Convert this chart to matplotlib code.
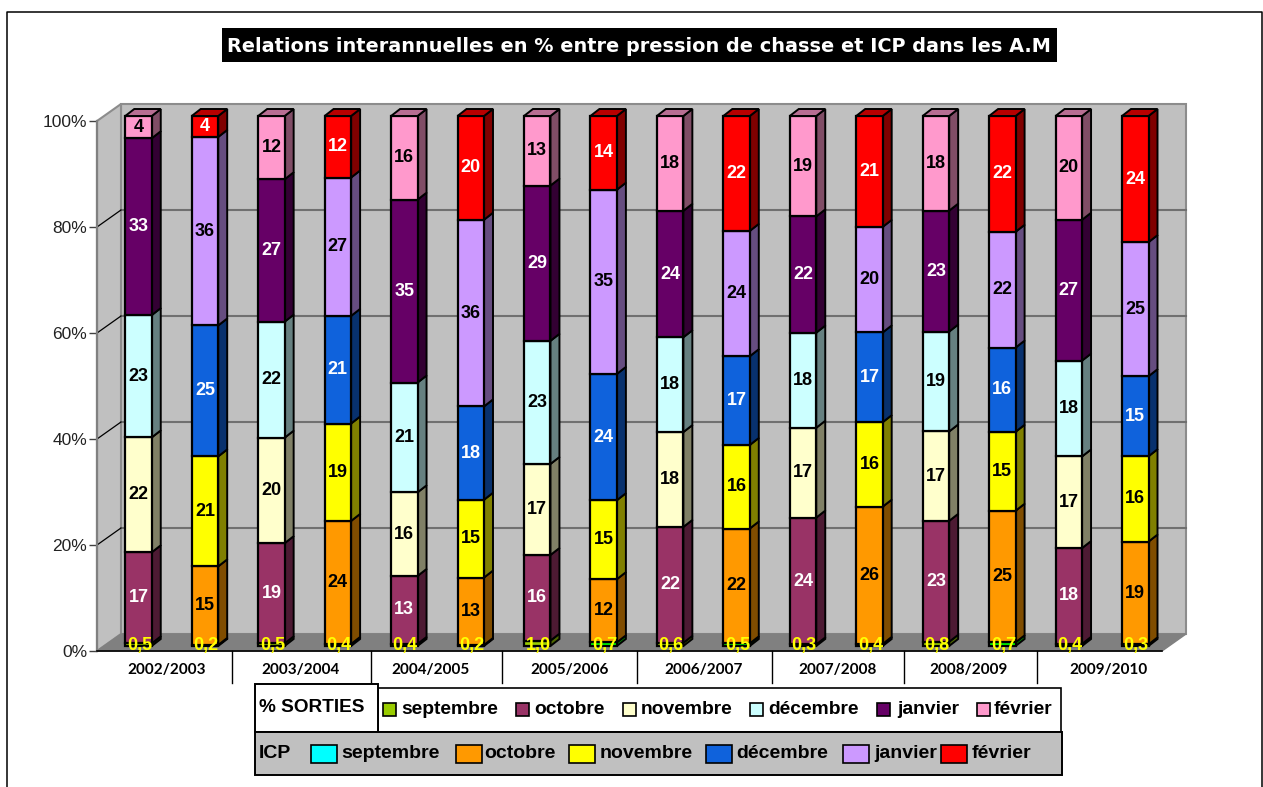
import matplotlib
matplotlib.use("Agg")
import matplotlib.pyplot as plt
from matplotlib.patches import Polygon, Rectangle
import matplotlib.colors as mc

plt.rcParams['font.family'] = ['Liberation Sans', 'DejaVu Sans']

seasons = ['2002/2003', '2003/2004', '2004/2005', '2005/2006',
           '2006/2007', '2007/2008', '2008/2009', '2009/2010']
months = ['septembre', 'octobre', 'novembre', 'décembre', 'janvier', 'février']

sorties_sep = [0.5, 0.5, 0.4, 1.0, 0.6, 0.3, 0.8, 0.4]
sorties_oct = [17.2, 19, 13, 16, 22, 24, 23, 18.1]
sorties_nov = [21.7, 20, 16, 17, 18, 17, 17, 17.3]
sorties_dec = [23.1, 22, 21, 23, 18, 18, 19, 18.1]
sorties_jan = [33.4, 27, 35, 29, 24, 22, 23, 26.6]
sorties_fev = [4.2, 12, 16, 13, 18, 19, 18, 19.6]

icp_sep = [0.2, 0.4, 0.2, 0.7, 0.5, 0.4, 0.7, 0.3]
icp_oct = [15, 24, 13, 12, 22, 26, 25, 19.4]
icp_nov = [21, 19, 15, 15, 16, 16, 15, 16.1]
icp_dec = [25, 21, 18, 24, 17, 17, 16, 15.1]
icp_jan = [36, 27, 36, 35, 24, 20, 22, 25.3]
icp_fev = [4, 12, 20, 14, 22, 21, 22, 23.8]

sorties = [sorties_sep, sorties_oct, sorties_nov, sorties_dec, sorties_jan, sorties_fev]
icp = [icp_sep, icp_oct, icp_nov, icp_dec, icp_jan, icp_fev]

sorties_colors = ['#99CC00', '#993366', '#FFFFCC', '#CCFFFF', '#660066', '#FF99CC']
icp_colors = ['#00FF00', '#FF9900', '#FFFF00', '#0F62DC', '#CC99FF', '#FF0000']
icp_legend_colors = ['#00FFFF', '#FF9900', '#FFFF00', '#0F62DC', '#CC99FF', '#FF0000']
sorties_text = ['#FFFF00', 'white', 'black', 'black', 'white', 'black']
icp_text = ['#FFFF00', 'black', 'black', 'white', 'black', 'white']

W, H = 1263, 787
fig = plt.figure(figsize=(W / 100, H / 100), dpi=100, facecolor='white')

# layout, in pixels
L, R, T, B = 97, 1162, 121, 651
BAR0_CENTRE, STEP, BAR_W = 138.5, 66.45, 26.5
WALL_DX, WALL_DY = 24, 17
BAR_DX, BAR_DY = 9, 7
BAR_LIFT = 5

ax = fig.add_axes([L / W, 1 - B / H, (R - L) / W, (B - T) / H])
ax.set_xlim((L - BAR0_CENTRE) / STEP, (R - BAR0_CENTRE) / STEP)
ax.set_ylim(0, 100)
ax.set_facecolor('none')
px_x = 1 / STEP
px_y = 100 / (B - T)
x_from_px = lambda p: (p - BAR0_CENTRE) / STEP

# walls and floor
xa, xb = ax.get_xlim()
wx, wy = WALL_DX * px_x, WALL_DY * px_y
ax.add_patch(Polygon([(xa + wx, wy), (xb + wx, wy), (xb + wx, 100 + wy), (xa + wx, 100 + wy)],
                     fc='#C0C0C0', ec='#8C8C8C', lw=1.5, clip_on=False, zorder=1))
ax.add_patch(Polygon([(xa, 0), (xa + wx, wy), (xa + wx, 100 + wy), (xa, 100)],
                     fc='#C0C0C0', ec='#8C8C8C', lw=1.5, clip_on=False, zorder=1))
ax.add_patch(Polygon([(xa, 0), (xa + wx, wy), (xb + wx, wy), (xb, 0)],
                     fc='#808080', ec='#808080', lw=1, clip_on=False, zorder=1.1))
for v in [20, 40, 60, 80]:
    ax.plot([xa + wx, xb + wx], [v + wy, v + wy], color='#707070', lw=1.5, clip_on=False, zorder=1.2)
    ax.plot([xa, xa + wx], [v, v + wy], color='black', lw=0.9, clip_on=False, zorder=1.2)

# stacked 3D bars
lift = BAR_LIFT * px_y
half = BAR_W / 2 * px_x
dx, dy = BAR_DX * px_x, BAR_DY * px_y
for i in range(16):
    k = i // 2
    group = icp if i % 2 else sorties
    cols = icp_colors if i % 2 else sorties_colors
    txt = icp_text if i % 2 else sorties_text
    vals = [m[k] for m in group]
    total = sum(vals)
    cum = 0
    for j, v in enumerate(vals):
        y0 = cum / total * 100 + lift
        cum += v
        y1 = cum / total * 100 + lift
        c = mc.to_rgb(cols[j])
        side = tuple(ch * 0.5 for ch in c)
        top = tuple(ch * 0.72 for ch in c)
        ax.add_patch(Polygon([(i + half, y0), (i + half + dx, y0 + dy), (i + half + dx, y1 + dy), (i + half, y1)],
                             fc=side, ec='black', lw=1.4, clip_on=False, zorder=2 + j * 0.1))
        ax.add_patch(Rectangle((i - half, y0), 2 * half, y1 - y0,
                               fc=c, ec='black', lw=1.6, clip_on=False, zorder=2.05 + j * 0.1))
        if j == 5:
            ax.add_patch(Polygon([(i - half, y1), (i + half, y1), (i + half + dx, y1 + dy), (i - half + dx, y1 + dy)],
                                 fc=top, ec='black', lw=1.4, clip_on=False, zorder=2.9))
        if j == 0:
            ax.text(i + 1 * px_x, lift * 1.05, f'{v:.1f}'.replace('.', ','), color=txt[j], fontsize=13,
                    fontweight='bold', ha='center', va='center', zorder=4, clip_on=False)
        else:
            ax.text(i, (y0 + y1) / 2, f'{v:.0f}', color=txt[j], fontsize=13,
                    fontweight='bold', ha='center', va='center', zorder=4, clip_on=False)

# axes
for s in ['top', 'right']:
    ax.spines[s].set_visible(False)
ax.spines['left'].set_color('#808080')
ax.spines['left'].set_linewidth(1.6)
ax.spines['bottom'].set_color('black')
ax.spines['bottom'].set_linewidth(1.2)
ax.set_yticks([0, 20, 40, 60, 80, 100])
ax.set_yticklabels(['0%', '20%', '40%', '60%', '80%', '100%'], fontsize=12.5)
ax.tick_params(axis='y', length=5.5, width=1, pad=1.5, color='#404040', labelcolor='#222222')
label_px = [167, 300, 430, 570, 704, 838, 968, 1108]
ax.set_xticks([x_from_px(p) for p in label_px])
ax.set_xticklabels(seasons, fontsize=11, fontweight='bold', family=['Lato', 'DejaVu Sans'])
ax.tick_params(axis='x', length=0, pad=8.5)

# overlay in pixels: frame, title, separators, legend
ov = fig.add_axes([0, 0, 1, 1], zorder=5)
ov.set_xlim(0, W)
ov.set_ylim(H, 0)
ov.axis('off')
ov.patch.set_alpha(0)
ov.plot([6.5, 6.5, 1262, 1262], [H, 12, 12, H], color='black', lw=1.1)
ov.add_patch(Rectangle((222, 28), 835, 34, fc='black', ec='none'))
ov.text(639, 46, 'Relations interannuelles en % entre pression de chasse et ICP dans les A.M',
        color='white', fontsize=13.9, fontweight='bold', ha='center', va='center', family=['DejaVu Sans'])
for p in [232, 371, 502, 637, 772, 904, 1037]:
    ov.plot([p, p], [651, 683], color='black', lw=1)

ov.add_patch(Rectangle((378, 688), 683, 44, fc='white', ec='black', lw=1.2))
ov.add_patch(Rectangle((255, 684), 123, 48, fc='white', ec='black', lw=1.4))
ov.add_patch(Rectangle((255, 732), 807, 43, fc='#C0C0C0', ec='black', lw=1.4))
ov.text(259, 708, '% SORTIES', fontsize=13.7, fontweight='bold', va='center', ha='left')
ov.text(259, 753, 'ICP', fontsize=14, fontweight='bold', va='center', ha='left')

row1_swatch = [383, 516, 623, 750, 877, 977]
row1_text = [401, 534, 641, 768, 897, 994]
for sw, tx, col, name in zip(row1_swatch, row1_text, sorties_colors, months):
    ov.add_patch(Rectangle((sw, 703), 13, 13, fc=col, ec='black', lw=1.2))
    ov.text(tx, 710, name, fontsize=13.9, fontweight='bold', va='center', ha='left')

row2_swatch = [311, 456, 569, 706, 843, 941]
row2_text = [341, 484, 600, 736, 874, 972]
for sw, tx, col, name in zip(row2_swatch, row2_text, icp_legend_colors, months):
    ov.add_patch(Rectangle((sw, 745), 26, 18, fc=col, ec='black', lw=1.2))
    ov.text(tx, 753, name, fontsize=14, fontweight='bold', va='center', ha='left')

fig.savefig('out.png', dpi=100, facecolor='white')
